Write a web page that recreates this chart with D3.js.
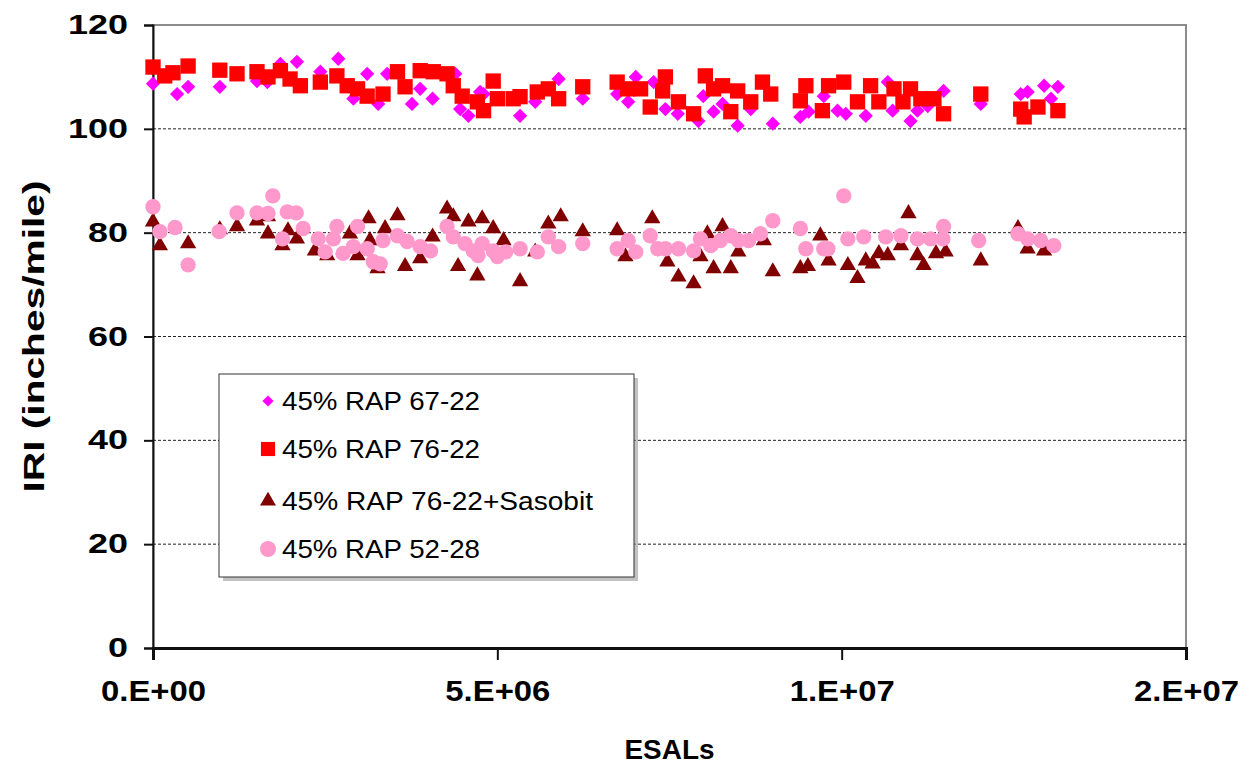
<!DOCTYPE html>
<html>
<head>
<meta charset="utf-8">
<script src="https://cdn.jsdelivr.net/npm/d3@7"></script>
<style>
  body { margin: 0; background: #fff; }
  svg text { font-family: Arial, "Liberation Sans", sans-serif; }
</style>
</head>
<body>
<div id="chart"></div>
<script>
// x values are ESALs in millions, y values are IRI (inches/mile)
var rap6722 = [[0,108.7],[0.35,106.7],[0.51,108.1],[0.97,108.1],[1.51,109.2],[1.66,109.0],[1.85,112.5],[2.09,112.9],
  [2.43,111.0],[2.69,113.5],[2.91,105.8],[3.11,110.6],[3.27,104.8],[3.40,110.6],[3.76,104.8],[3.88,107.7],[4.06,105.8],
  [4.39,110.6],[4.46,103.8],[4.58,102.5],[4.80,106.7],[4.75,107.1],[5.33,102.5],[5.55,105.2],[5.89,109.6],[6.24,105.8],
  [6.74,106.7],[6.90,105.2],[7.01,110.0],[7.27,109.0],[7.44,103.8],[7.62,102.9],[7.92,101.5],[7.99,106.3],[8.14,103.3],
  [8.27,104.8],[8.49,100.6],[8.68,103.8],[9.00,101.0],[9.40,102.3],[9.52,103.3],[9.74,106.3],[9.94,103.5],[10.06,102.9],
  [10.35,102.5],[10.67,109.0],[10.74,103.5],[11.00,101.5],[11.10,103.5],[11.25,104.4],[11.48,107.3],[12.02,104.8],
  [12.60,106.7],[12.70,107.1],[12.94,108.3],[13.14,108.1],[13.04,105.8]];

var rap7622 = [[0,111.9],[0.17,110.2],[0.29,110.8],[0.51,112.1],[0.97,111.3],[1.22,110.6],[1.51,111.0],[1.67,110.0],
  [1.85,111.2],[1.99,109.6],[2.14,108.3],[2.43,109.0],[2.67,110.2],[2.82,108.3],[2.97,107.7],[3.11,106.3],[3.34,106.7],
  [3.55,111.0],[3.66,108.1],[3.88,111.2],[4.07,111.0],[4.27,110.6],[4.36,108.3],[4.49,106.3],[4.71,105.2],[4.80,103.5],
  [4.94,109.2],[5.00,105.8],[5.23,105.8],[5.33,106.2],[5.58,107.1],[5.74,107.7],[5.89,105.8],[6.24,108.1],[6.74,109.0],
  [6.89,107.7],[7.08,107.7],[7.22,104.2],[7.40,107.3],[7.44,110.0],[7.63,105.2],[7.85,102.9],[8.02,110.2],[8.14,107.7],
  [8.27,108.3],[8.39,103.3],[8.49,107.3],[8.68,105.2],[8.85,109.0],[8.97,106.7],[9.40,105.4],[9.48,108.3],[9.72,103.5],
  [9.81,108.3],[10.03,109.0],[10.23,105.2],[10.42,108.3],[10.54,105.2],[10.76,107.7],[10.89,105.2],[11.00,107.7],
  [11.15,105.8],[11.34,105.8],[11.48,102.9],[12.02,106.7],[12.60,103.8],[12.65,102.3],[12.85,104.2],[13.14,103.5]];

var rap7622sas = [[0,82.1],[0.10,77.5],[0.51,77.9],[0.97,80.6],[1.22,81.2],[1.51,82.3],[1.67,83.1],[1.67,79.8],
  [1.88,77.5],[1.96,80.4],[2.09,78.8],[2.35,76.5],[2.53,75.6],[2.86,79.8],[2.97,75.6],[3.13,82.7],[3.15,78.5],[3.26,73.1],
  [3.37,80.8],[3.55,83.3],[3.66,73.5],[3.88,75.0],[4.06,79.2],[4.27,84.6],[4.36,83.1],[4.43,73.5],[4.58,82.1],[4.71,71.7],
  [4.78,82.7],[4.94,80.8],[5.09,78.5],[5.33,70.6],[5.55,76.3],[5.74,81.7],[5.92,83.1],[6.24,80.2],[6.74,80.4],[6.86,75.4],
  [7.25,82.7],[7.47,74.4],[7.63,71.5],[7.85,70.2],[7.95,75.4],[8.05,79.8],[8.14,73.1],[8.27,81.2],[8.39,73.1],[8.50,76.3],
  [8.87,78.5],[9.00,72.5],[9.40,73.1],[9.51,73.5],[9.69,79.4],[9.81,74.6],[10.09,73.7],[10.23,71.2],[10.35,74.6],
  [10.45,74.0],[10.54,76.0],[10.67,75.6],[10.86,77.5],[10.97,83.7],[11.10,75.6],[11.19,73.7],[11.37,76.0],[11.51,76.3],
  [12.02,74.6],[12.56,80.8],[12.70,76.9],[12.94,76.5]];

var rap5228 = [[0,85.0],[0.10,80.2],[0.32,81.0],[0.51,73.8],[0.96,80.2],[1.22,83.8],[1.51,83.8],[1.67,83.7],[1.74,87.1],
  [1.95,84.0],[2.08,83.8],[1.88,78.8],[2.18,80.8],[2.40,78.8],[2.50,76.3],[2.67,81.2],[2.62,78.8],[2.76,76.0],[2.97,81.2],
  [2.91,77.3],[3.11,76.9],[3.20,74.4],[3.30,74.0],[3.34,78.5],[3.55,79.4],[3.69,78.3],[3.88,77.3],[4.03,76.5],[4.27,81.2],
  [4.36,79.2],[4.53,77.9],[4.65,76.5],[4.72,75.6],[4.78,77.9],[4.94,76.5],[5.00,75.4],[5.12,76.3],[5.33,76.9],[5.58,76.3],
  [5.74,79.2],[5.89,77.3],[6.24,77.9],[6.74,76.9],[6.90,78.5],[7.01,76.3],[7.22,79.4],[7.33,76.9],[7.44,76.9],[7.63,76.9],
  [7.85,76.5],[7.95,78.8],[8.10,77.5],[8.24,78.5],[8.39,79.4],[8.50,78.5],[8.65,78.5],[8.82,79.8],[9.00,82.3],[9.40,80.8],
  [9.48,76.9],[9.74,76.9],[9.80,76.9],[10.03,87.1],[10.09,78.8],[10.32,79.2],[10.64,79.2],[10.86,79.4],[11.10,78.8],
  [11.29,78.8],[11.48,81.2],[11.47,78.8],[11.99,78.5],[12.56,79.8],[12.70,78.8],[12.89,78.5],[13.08,77.5]];

var seriesNames = ["45% RAP 67-22", "45% RAP 76-22", "45% RAP 76-22+Sasobit", "45% RAP 52-28"];
var xTicks = [0, 5e6, 1e7, 1.5e7];
var yTicks = [0, 20, 40, 60, 80, 100, 120];

var width = 1241, height = 770;
var margin = {top: 25, right: 55, bottom: 122, left: 153};

var svg = d3.select("#chart").append("svg")
  .attr("width", width).attr("height", height);

var x = d3.scaleLinear().domain([0, 1.5e7]).range([margin.left, width - margin.right]);
var y = d3.scaleLinear().domain([0, 120]).range([height - margin.bottom, margin.top]);

// the source picture is stretched sideways, so text is widened with textLength
function stretch(sel, perChar) {
  sel.attr("textLength", function(){ return this.textContent.length * perChar; })
     .attr("lengthAdjust", "spacingAndGlyphs");
}

// plot area border (gray)
svg.append("rect")
  .attr("x", x(0)).attr("y", y(120))
  .attr("width", x(1.5e7) - x(0)).attr("height", y(0) - y(120))
  .attr("fill", "none").attr("stroke", "#8c8c8c").attr("stroke-width", 2);

// dashed gridlines
svg.append("g").selectAll("line")
  .data(yTicks.filter(function(d){ return d > 0 && d < 120; }))
  .enter().append("line")
  .attr("x1", x(0)).attr("x2", x(1.5e7))
  .attr("y1", function(d){ return y(d); }).attr("y2", function(d){ return y(d); })
  .attr("stroke", "#222").attr("stroke-width", 1).attr("stroke-dasharray", "3,2");

// y axis
var yAxis = svg.append("g")
  .attr("transform", "translate(" + x(0) + ",0)")
  .call(d3.axisLeft(y).tickValues(yTicks).tickSize(9).tickPadding(16));
yAxis.select(".domain").attr("stroke", "#111").attr("stroke-width", 2);
yAxis.selectAll(".tick line").attr("stroke", "#111").attr("stroke-width", 2);
yAxis.selectAll("text").attr("font-size", 27).attr("font-weight", "bold").attr("fill", "#000")
  .call(stretch, 20);

// x axis
var xAxis = svg.append("g")
  .attr("transform", "translate(0," + y(0) + ")")
  .call(d3.axisBottom(x).tickValues(xTicks).tickSize(12).tickPadding(20)
    .tickFormat(function(d){ return d.toExponential(0).replace("e", ".E").replace(/E([+-])(\d)$/, "E$10$2"); }));
xAxis.select(".domain").attr("stroke", "#111").attr("stroke-width", 3);
xAxis.selectAll(".tick line").attr("stroke", "#111").attr("stroke-width", 2);
xAxis.selectAll("text").attr("font-size", 29).attr("font-weight", "bold").attr("fill", "#000")
  .call(stretch, 17.5);

// axis titles
svg.append("text")
  .attr("transform", "translate(44," + (y(60)) + ") rotate(-90)")
  .attr("text-anchor", "middle")
  .attr("font-size", 29).attr("font-weight", "bold")
  .attr("textLength", 312).attr("lengthAdjust", "spacingAndGlyphs")
  .text("IRI (inches/mile)");
svg.append("text")
  .attr("x", (x(0) + x(1.5e7)) / 2).attr("y", 759)
  .attr("text-anchor", "middle")
  .attr("font-size", 28).attr("font-weight", "bold")
  .attr("textLength", 90).attr("lengthAdjust", "spacingAndGlyphs")
  .text("ESALs");

// markers
var symDiamond = d3.symbol().type(d3.symbolDiamond2).size(130);
var symSquare = d3.symbol().type(d3.symbolSquare).size(235);
var symTriangle = d3.symbol().type(d3.symbolTriangle).size(115);
var symCircle = d3.symbol().type(d3.symbolCircle).size(185);

var series = [
  {data: rap6722, sym: symDiamond, color: "#ff00ff"},
  {data: rap7622, sym: symSquare, color: "#ff0000"},
  {data: rap7622sas, sym: symTriangle, color: "#800000"},
  {data: rap5228, sym: symCircle, color: "#ff99cc"}
];

series.forEach(function(s){
  svg.append("g").selectAll("path")
    .data(s.data)
    .enter().append("path")
    .attr("d", s.sym)
    .attr("fill", s.color)
    .attr("transform", function(d){ return "translate(" + x(d[0] * 1e6) + "," + y(d[1]) + ")"; });
});

// legend
var lg = svg.append("g").attr("transform", "translate(219,374)");
lg.append("rect").attr("x", 4).attr("y", 4).attr("width", 415).attr("height", 203).attr("fill", "#999").attr("opacity", 0.6);
lg.append("rect").attr("width", 415).attr("height", 203).attr("fill", "#fff").attr("stroke", "#333").attr("stroke-width", 1);

var legendSyms = [
  d3.symbol().type(d3.symbolDiamond2).size(80),
  d3.symbol().type(d3.symbolSquare).size(200),
  d3.symbol().type(d3.symbolTriangle).size(110),
  d3.symbol().type(d3.symbolCircle).size(200)
];
var legendY = [27, 75, 127, 175];
var legendLen = [198, 198, 311, 198];
seriesNames.forEach(function(name, i){
  lg.append("path")
    .attr("d", legendSyms[i])
    .attr("fill", series[i].color)
    .attr("transform", "translate(49," + legendY[i] + ")");
  lg.append("text")
    .attr("x", 63).attr("y", legendY[i])
    .attr("dy", "0.36em")
    .attr("font-size", 25)
    .attr("textLength", legendLen[i]).attr("lengthAdjust", "spacingAndGlyphs")
    .text(name);
});
</script>
</body>
</html>
